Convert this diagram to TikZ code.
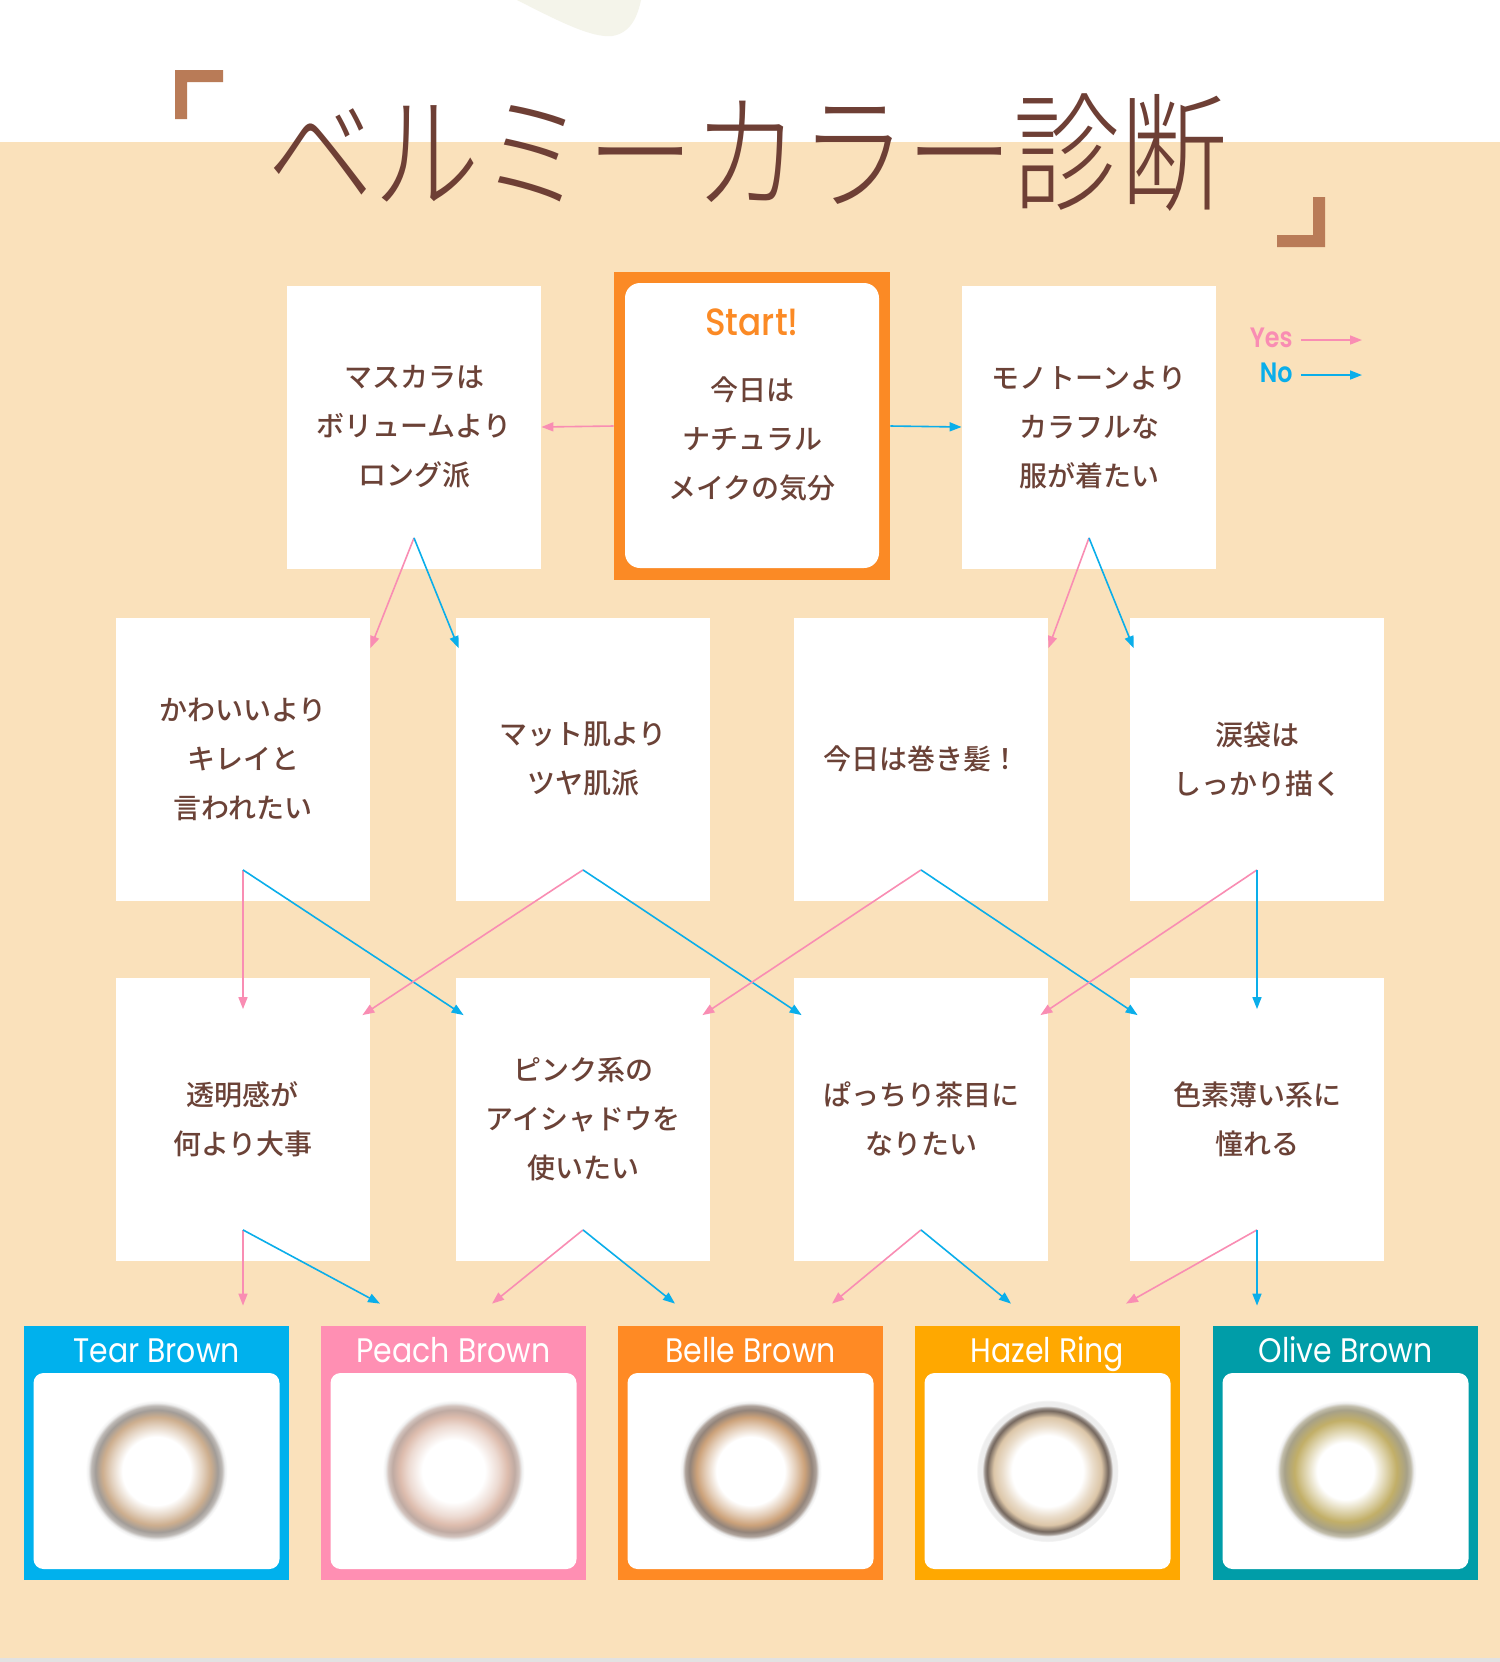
\documentclass[tikz,border=0pt]{standalone}
\usepackage{fontspec}
\usepackage{graphicx}
\usetikzlibrary{arrows.meta}

\newfontfamily\jpfont{Noto Sans CJK JP}
\IfFontExistsTF{Noto Sans CJK JP Medium}{\newfontfamily\jpmedium{Noto Sans CJK JP Medium}}{\newfontfamily\jpmedium{Noto Sans CJK JP}}
\IfFontExistsTF{Noto Sans CJK JP Light}{\newfontfamily\jplight{Noto Sans CJK JP Light}}{\newfontfamily\jplight{Noto Sans CJK JP}}
\newfontfamily\latinfont{Poppins}
\IfFontExistsTF{Poppins Medium}{\newfontfamily\latinmedium{Poppins Medium}}{\newfontfamily\latinmedium{Poppins}}
\IfFontExistsTF{Poppins SemiBold}{\newfontfamily\latinsemi{Poppins SemiBold}}{\newfontfamily\latinsemi{Poppins}[FakeBold=1.5]}

\definecolor{bgpeach}{HTML}{FAE1BB}
\definecolor{bggray}{HTML}{E2E2E2}
\definecolor{leafcream}{HTML}{F4F4EA}
\definecolor{titlebrown}{HTML}{6E3F35}
\definecolor{bracketbrown}{HTML}{B97B57}
\definecolor{txtbrown}{HTML}{6B4237}
\definecolor{startorange}{HTML}{FB8A25}
\definecolor{yespink}{HTML}{F98DB3}
\definecolor{noblue}{HTML}{0AAEEA}
\definecolor{tearblue}{HTML}{00B1ED}
\definecolor{peachpink}{HTML}{FF8FB3}
\definecolor{belleorange}{HTML}{FF8A24}
\definecolor{hazelamber}{HTML}{FFA800}
\definecolor{oliveteal}{HTML}{009DA8}
\definecolor{lenshalo}{HTML}{EEEEEE}
\definecolor{teartan}{HTML}{CDAE8E}
\definecolor{teargray}{HTML}{A29C97}
\definecolor{peachtan}{HTML}{DDBCAD}
\definecolor{peachgray}{HTML}{BFAAA2}
\definecolor{belletan}{HTML}{CCA27A}
\definecolor{bellegray}{HTML}{93847A}
\definecolor{hazeltan}{HTML}{DCC6A8}
\definecolor{hazeledge}{HTML}{74675E}
\definecolor{olivetan}{HTML}{C2AF68}
\definecolor{olivegray}{HTML}{A7A188}

\pgfdeclareradialshading{lenstear}{\pgfpoint{0bp}{0bp}}{color(0bp)=(white); color(12bp)=(white); color(16bp)=(teartan!55); color(19bp)=(teartan); color(21.5bp)=(teargray); color(23bp)=(teargray!70); color(24bp)=(lenshalo); color(25bp)=(white); color(50bp)=(white)}
\pgfdeclareradialshading{lenspeach}{\pgfpoint{0bp}{0bp}}{color(0bp)=(white); color(11bp)=(white); color(16bp)=(peachtan!55); color(19bp)=(peachtan); color(21.5bp)=(peachgray); color(23bp)=(peachgray!70); color(24bp)=(lenshalo); color(25bp)=(white); color(50bp)=(white)}
\pgfdeclareradialshading{lensbelle}{\pgfpoint{0bp}{0bp}}{color(0bp)=(white); color(12bp)=(white); color(16bp)=(belletan!55); color(19bp)=(belletan); color(21.5bp)=(bellegray); color(23bp)=(bellegray!75); color(24bp)=(lenshalo); color(25bp)=(white); color(50bp)=(white)}
\pgfdeclareradialshading{lenshazel}{\pgfpoint{0bp}{0bp}}{color(0bp)=(white); color(12.5bp)=(white); color(16bp)=(hazeltan!60); color(19bp)=(hazeltan); color(21.3bp)=(hazeledge); color(22.2bp)=(hazeledge!70); color(23bp)=(lenshalo); color(24.6bp)=(lenshalo); color(25bp)=(white); color(50bp)=(white)}
\pgfdeclareradialshading{lensolive}{\pgfpoint{0bp}{0bp}}{color(0bp)=(white); color(10bp)=(white); color(14bp)=(olivetan!50); color(18bp)=(olivetan); color(21.5bp)=(olivegray); color(23bp)=(olivegray!70); color(24bp)=(lenshalo); color(25bp)=(white); color(50bp)=(white)}

\begin{document}
\begin{tikzpicture}[x=0.5pt,y=-0.5pt,
  qbox/.style={fill=white, minimum width=127pt, minimum height=141.5pt, inner sep=0pt,
    align=center, text=txtbrown, font=\jpmedium\fontsize{14pt}{24.5pt}\selectfont},
  lensbox/.style={minimum width=132.5pt, minimum height=127pt, inner sep=0pt},
  lensin/.style={fill=white, rounded corners=5pt, minimum width=123pt, minimum height=98pt, inner sep=0pt},
  lensname/.style={text=white, inner sep=0pt, text height=12pt, text depth=3.5pt,
    font=\latinfont\fontsize{17pt}{17pt}\selectfont},
  yes/.style={draw=yespink, line width=0.8pt, -{Triangle[length=6pt,width=4.5pt]}},
  no/.style={draw=noblue, line width=0.8pt, -{Triangle[length=6pt,width=4.5pt]}}]
\useasboundingbox (0,0) rectangle (1500,1662);

% background
\fill[white] (0,0) rectangle (1500,142);
\fill[bgpeach] (0,142) rectangle (1500,1658);
\fill[bggray] (0,1658) rectangle (1500,1662);
\fill[leafcream] (517,0) .. controls (560,22) and (592,38) .. (612,36) .. controls (632,33) and (638,14) .. (641,0) -- cycle;

% title
\fill[bracketbrown] (175,70) -- (223,70) -- (223,82) -- (187,82) -- (187,119) -- (175,119) -- cycle;
\fill[bracketbrown] (1325,247) -- (1277,247) -- (1277,235) -- (1313,235) -- (1313,197) -- (1325,197) -- cycle;
\node[text=titlebrown, inner sep=0pt, font=\jplight\fontsize{53.3pt}{53.3pt}\selectfont] (title) at (747,153) {\scalebox{1}[1.2]{ベルミーカラー診断}};

% legend
\node[anchor=east, inner sep=0pt, text=yespink, font=\latinsemi\fontsize{14pt}{14pt}\selectfont] (yeslabel) at (1293,338) {\scalebox{0.85}[1]{Yes}};
\node[anchor=east, inner sep=0pt, text=noblue, font=\latinsemi\fontsize{14pt}{14pt}\selectfont] (nolabel) at (1293,373) {\scalebox{0.85}[1]{No}};
\coordinate (yesend) at (1362,340);
\coordinate (noend) at (1362,375);
\draw[yes] ([xshift=4pt,yshift=-1pt]yeslabel.east) -- (yesend);
\draw[no] ([xshift=4pt,yshift=-1pt]nolabel.east) -- (noend);

% first row
\node[fill=startorange, minimum width=138pt, minimum height=154pt, inner sep=0pt] (start) at (752,426) {};
\node[fill=white, rounded corners=7.5pt, minimum width=127pt, minimum height=142.5pt, inner sep=0pt] (startin) at (752,425.5) {};
\node[text=startorange, inner sep=0pt, font=\latinmedium\fontsize{19pt}{19pt}\selectfont] (starttitle) at (752,322) {\scalebox{0.9}[1]{Start!}};
\node[align=center, inner sep=0pt, text=txtbrown, font=\jpmedium\fontsize{14pt}{24.5pt}\selectfont] (starttext) at (752,439) {今日は\\ナチュラル\\メイクの気分};
\node[qbox] (mascara) at (414,427) {マスカラは\\ボリュームより\\ロング派};
\node[qbox] (mono) at (1089,427) {モノトーンより\\カラフルな\\服が着たい};

% second row
\node[qbox] (kawaii) at (243,759) {かわいいより\\キレイと\\言われたい};
\node[qbox] (matte) at (583,759) {マット肌より\\ツヤ肌派};
\node[qbox] (curl) at (921,759) {今日は巻き髪！};
\node[qbox] (namida) at (1257,759) {涙袋は\\しっかり描く};

% third row
\node[qbox] (toumei) at (243,1119) {透明感が\\何より大事};
\node[qbox] (pink) at (583,1119) {ピンク系の\\アイシャドウを\\使いたい};
\node[qbox] (pacchiri) at (921,1119) {ぱっちり茶目に\\なりたい};
\node[qbox] (shikiso) at (1257,1119) {色素薄い系に\\憧れる};

% lenses
\node[lensbox, fill=tearblue] (tear) at (156.5,1453) {};
\node[lensin] (tearin) at (156.5,1471) {};
\node[lensname] at (156.5,1353.5) {\scalebox{0.88}[1]{Tear Brown}};
\shade[shading=lenstear] (tearin) circle[radius=71];

\node[lensbox, fill=peachpink] (peach) at (453.5,1453) {};
\node[lensin] (peachin) at (453.5,1471) {};
\node[lensname] at (453.5,1353.5) {\scalebox{0.88}[1]{Peach Brown}};
\shade[shading=lenspeach] (peachin) circle[radius=71];

\node[lensbox, fill=belleorange] (belle) at (750.5,1453) {};
\node[lensin] (bellein) at (750.5,1471) {};
\node[lensname] at (750.5,1353.5) {\scalebox{0.88}[1]{Belle Brown}};
\shade[shading=lensbelle] (bellein) circle[radius=71];

\node[lensbox, fill=hazelamber] (hazel) at (1047.5,1453) {};
\node[lensin] (hazelin) at (1047.5,1471) {};
\node[lensname] at (1047.5,1353.5) {\scalebox{0.88}[1]{Hazel Ring}};
\shade[shading=lenshazel] (hazelin) circle[radius=71];

\node[lensbox, fill=oliveteal] (olive) at (1345.5,1453) {};
\node[lensin] (olivein) at (1345.5,1471) {};
\node[lensname] at (1345.5,1353.5) {\scalebox{0.88}[1]{Olive Brown}};
\shade[shading=lensolive] (olivein) circle[radius=71];

% arrows
\draw[yes] (start.west) -- (mascara.east);
\draw[no] (start.east) -- (mono.west);

\draw[yes] ([yshift=15.5pt]mascara.south) -- ([yshift=-15.5pt]kawaii.north east);
\draw[no] ([yshift=15.5pt]mascara.south) -- ([xshift=1.5pt,yshift=-15.5pt]matte.north west);
\draw[yes] ([yshift=15.5pt]mono.south) -- ([yshift=-15.5pt]curl.north east);
\draw[no] ([yshift=15.5pt]mono.south) -- ([xshift=2pt,yshift=-15.5pt]namida.north west);

\draw[yes] ([yshift=15.5pt]kawaii.south) -- ([yshift=-16pt]toumei.north);
\draw[no] ([yshift=15.5pt]kawaii.south) -- ([xshift=4pt,yshift=-19pt]pink.north west);
\draw[yes] ([yshift=15.5pt]matte.south) -- ([xshift=-4pt,yshift=-19pt]toumei.north east);
\draw[no] ([yshift=15.5pt]matte.south) -- ([xshift=4pt,yshift=-19pt]pacchiri.north west);
\draw[yes] ([yshift=15.5pt]curl.south) -- ([xshift=-4pt,yshift=-19pt]pink.north east);
\draw[no] ([yshift=15.5pt]curl.south) -- ([xshift=4pt,yshift=-19pt]shikiso.north west);
\draw[yes] ([yshift=15.5pt]namida.south) -- ([xshift=-4pt,yshift=-19pt]pacchiri.north east);
\draw[no] ([yshift=15.5pt]namida.south) -- ([yshift=-16pt]shikiso.north);

\draw[yes] ([yshift=15.5pt]toumei.south) -- ([xshift=43.25pt,yshift=10pt]tear.north);
\draw[no] ([yshift=15.5pt]toumei.south) -- ([xshift=-36.75pt,yshift=11pt]peach.north);
\draw[yes] ([yshift=15.5pt]pink.south) -- ([xshift=19.25pt,yshift=11pt]peach.north);
\draw[no] ([yshift=15.5pt]pink.south) -- ([xshift=-37.75pt,yshift=11pt]belle.north);
\draw[yes] ([yshift=15.5pt]pacchiri.south) -- ([xshift=40.75pt,yshift=11pt]belle.north);
\draw[no] ([yshift=15.5pt]pacchiri.south) -- ([xshift=-18.25pt,yshift=11pt]hazel.north);
\draw[yes] ([yshift=15.5pt]shikiso.south) -- ([xshift=39.25pt,yshift=11pt]hazel.north);
\draw[no] ([yshift=15.5pt]shikiso.south) -- ([xshift=-44.25pt,yshift=10pt]olive.north);
\end{tikzpicture}
\end{document}
